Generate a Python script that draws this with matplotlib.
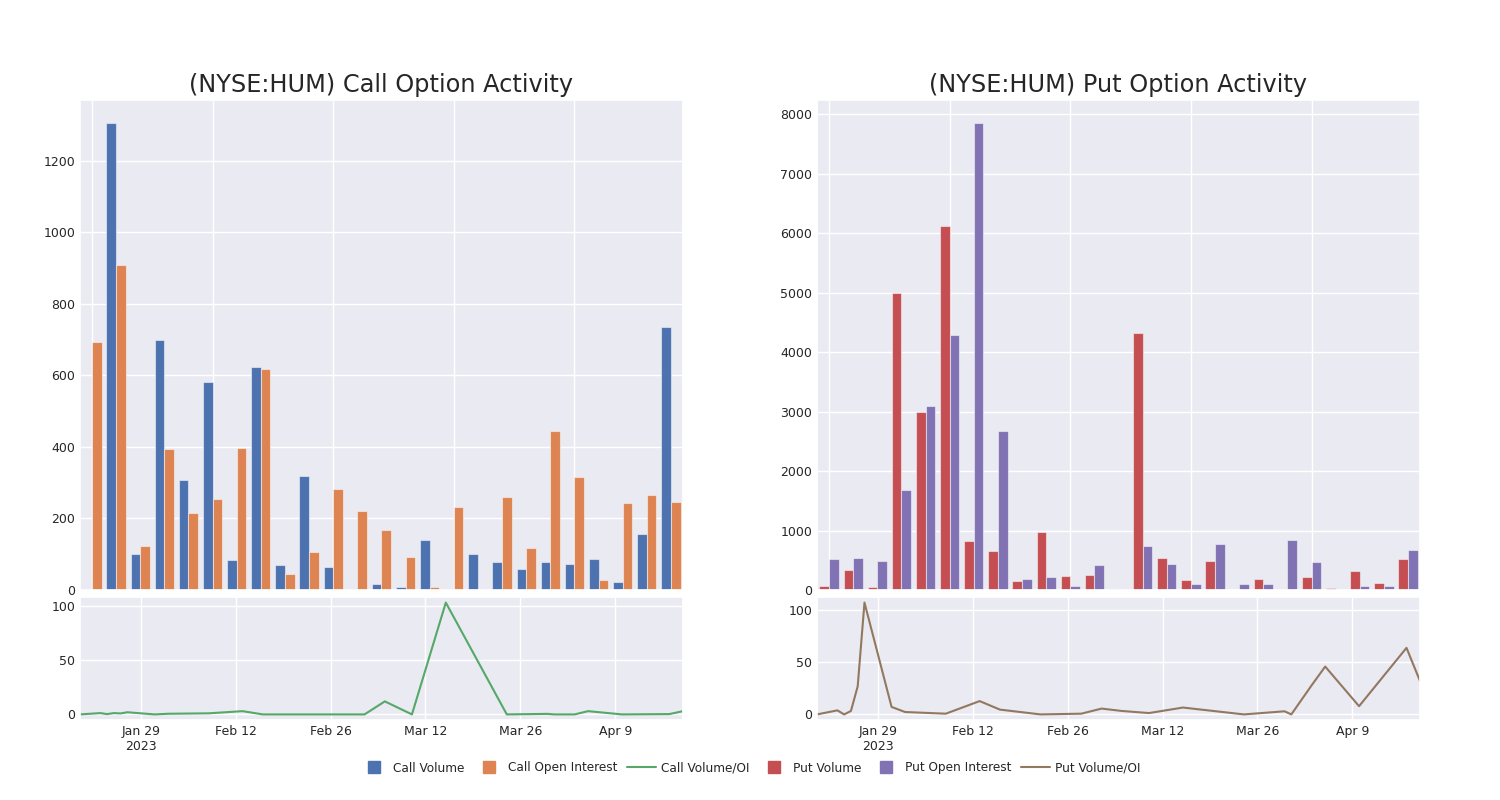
import matplotlib
matplotlib.use('Agg')
import matplotlib.pyplot as plt
from matplotlib.lines import Line2D
import seaborn as sns
import numpy as np
import pandas as pd

# daily option activity for HUM, Jan 20 - Apr 19 2023
dates = ['2023-01-20', '2023-01-23', '2023-01-24', '2023-01-25', '2023-01-26',
         '2023-01-27', '2023-01-31', '2023-02-02', '2023-02-08', '2023-02-13',
         '2023-02-16', '2023-02-22', '2023-02-28', '2023-03-03', '2023-03-06',
         '2023-03-10', '2023-03-15', '2023-03-24', '2023-03-30', '2023-03-31',
         '2023-04-03', '2023-04-05', '2023-04-10', '2023-04-17', '2023-04-19']

call_volume = [3, 1305, 101, 698, 309, 582, 83, 623, 69, 320, 63, 4, 18,
               7, 139, 4, 100, 78, 58, 77, 74, 88, 23, 157, 735]
call_oi = [693, 909, 122, 393, 216, 255, 397, 618, 44, 106, 283, 222, 168,
           92, 9, 232, 0, 259, 117, 444, 316, 27, 242, 266, 246]
call_ratio = [0, 1.2, 0.3, 1.2, 0.9, 2.0, 0, 0.6, 1.0, 3.0, 0, 0, 0,
              0, 12, 0, 103, 0, 0.5, 0, 0, 3, 0, 0.3, 3]

put_volume = [73, 331, 56, 4997, 2998, 6126, 831, 657, 157, 983, 241, 253, 11,
              4323, 533, 168, 489, 3, 191, 11, 219, 28, 326, 112, 517]
put_oi = [517, 533, 494, 1684, 3088, 4278, 7844, 2667, 180, 213, 73, 415, 11,
          741, 432, 107, 775, 101, 95, 837, 466, 0, 73, 62, 668]
put_ratio = [0, 3.9, 0, 3.3, 27, 107.5, 7.2, 2.3, 0.7, 12.8, 4.6, 0, 0.7,
             5.6, 3.3, 1.3, 6.6, 0, 3, 0, 28, 46, 7.9, 64, 32]

date_ticks = ['2023-01-29', '2023-02-12', '2023-02-26', '2023-03-12', '2023-03-26', '2023-04-09']
date_tick_labels = ['Jan 29\n2023', 'Feb 12', 'Feb 26', 'Mar 12', 'Mar 26', 'Apr 9']

pal = sns.color_palette('deep')
colours = {'cv': pal[0], 'coi': pal[1], 'cr': pal[2],
           'pv': pal[3], 'poi': pal[4], 'pr': pal[5]}

sns.set_theme(style='darkgrid')
plt.rcParams['font.family'] = ['DejaVu Sans']

fig = plt.figure(figsize=(15, 8), dpi=100)

x_dates = pd.to_datetime(dates)
tick_dates = pd.to_datetime(date_ticks)


def bar_panel(left, vol, oi, c1, c2, title):
    ax = fig.add_axes([left, 0.2625, 0.402, 0.6125])
    x = np.arange(len(vol))
    w = 0.4
    ax.bar(x - w / 2, vol, w, color=c1, edgecolor=(1, 1, 1, 0.5), linewidth=0.8)
    ax.bar(x + w / 2, oi, w, color=c2, edgecolor=(1, 1, 1, 0.5), linewidth=0.8)
    ax.set_xlim(-0.5, len(vol) - 0.5)
    ax.set_xticks(np.arange(0, len(vol), 5))
    ax.set_xticklabels([])
    ax.tick_params(length=0, labelsize=9)
    ax.set_title(title, fontsize=17.3)
    return ax


def line_panel(left, vals, c):
    ax = fig.add_axes([left, 0.1, 0.402, 0.15375])
    ax.plot(x_dates, vals, color=c, linewidth=1.5)
    ax.set_xlim(x_dates[0], x_dates[-1])
    ax.set_xticks(tick_dates)
    ax.set_xticklabels(date_tick_labels)
    ax.set_yticks([0, 50, 100])
    ax.tick_params(length=0, labelsize=9)
    return ax


bar_panel(0.0533, call_volume, call_oi, colours['cv'], colours['coi'],
          '(NYSE:HUM) Call Option Activity')
bar_panel(0.5447, put_volume, put_oi, colours['pv'], colours['poi'],
          '(NYSE:HUM) Put Option Activity')
line_panel(0.0533, call_ratio, colours['cr'])
line_panel(0.5447, put_ratio, colours['pr'])

handles = [
    Line2D([], [], marker='s', linestyle='none', markersize=9, color=colours['cv']),
    Line2D([], [], marker='s', linestyle='none', markersize=9, color=colours['coi']),
    Line2D([], [], color=colours['cr'], linewidth=1.5),
    Line2D([], [], marker='s', linestyle='none', markersize=9, color=colours['pv']),
    Line2D([], [], marker='s', linestyle='none', markersize=9, color=colours['poi']),
    Line2D([], [], color=colours['pr'], linewidth=1.5),
]
labels = ['Call Volume', 'Call Open Interest', 'Call Volume/OI',
          'Put Volume', 'Put Open Interest', 'Put Volume/OI']
fig.legend(handles, labels, loc='center', bbox_to_anchor=(0.5, 0.04), ncol=6,
           frameon=False, fontsize=8.7, handlelength=2.4, handletextpad=0.4,
           columnspacing=0.8)

fig.savefig('out.png', dpi=100)
